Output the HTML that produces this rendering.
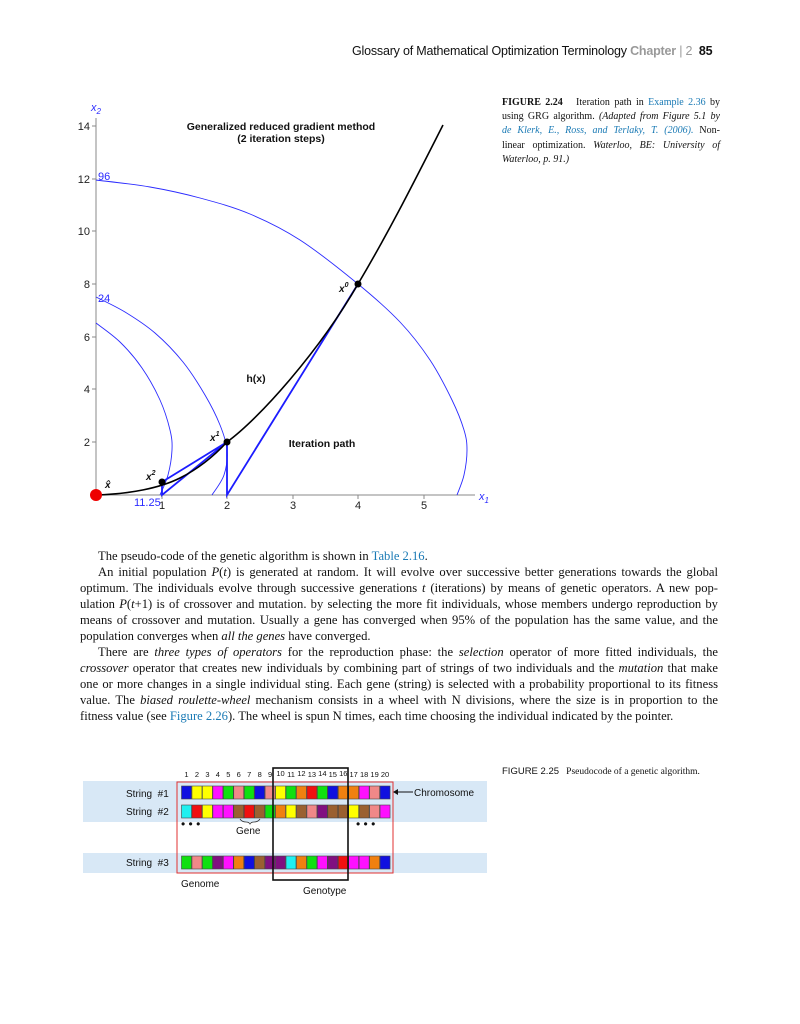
<!DOCTYPE html>
<html><head><meta charset="utf-8"><style>
body{margin:0;background:#fff;}
#p{position:relative;width:800px;height:1024px;overflow:hidden;font-family:"Liberation Serif",serif;color:#111;}
.l{position:absolute;left:80px;width:638px;font-size:12.6px;line-height:16px;white-space:nowrap;text-align:justify;text-align-last:justify;}
.l.e{text-align-last:left;}
.b{color:#1a7ab5}
.cap{position:absolute;left:502px;top:96px;width:218px;font-size:10px;line-height:14.2px;}
.cap div{text-align:justify;text-align-last:justify;white-space:nowrap}
</style></head><body><div id="p">
<div style="position:absolute;left:352px;top:44px;font-family:'Liberation Sans',sans-serif;font-size:12.5px;letter-spacing:-0.2px;">Glossary of Mathematical Optimization Terminology <span style="color:#999;font-weight:bold">Chapter</span> <span style="color:#999">|</span> <span style="color:#999">2</span> &nbsp;<b>85</b></div>

<div class="cap">
<div><b>FIGURE 2.24</b>&nbsp;&nbsp; Iteration path in <span class="b">Example 2.36</span> by</div>
<div>using GRG algorithm. <i>(Adapted from Figure 5.1 by</i></div>
<div><i class="b">de Klerk, E., Ross, and Terlaky, T. (2006).</i> Non-</div>
<div>linear optimization. <i>Waterloo, BE: University of</i></div>
<div style="text-align-last:left"><i>Waterloo, p. 91.)</i></div>
</div>

<svg id="ch" style="position:absolute;left:0;top:0" width="800" height="540" font-family="Liberation Sans, sans-serif">
<g stroke="#888" stroke-width="1">
<line x1="96" y1="118" x2="96" y2="495"/>
<line x1="96" y1="495" x2="475" y2="495"/>
<line x1="92" y1="126" x2="96" y2="126"/><line x1="92" y1="179" x2="96" y2="179"/><line x1="92" y1="231" x2="96" y2="231"/><line x1="92" y1="284" x2="96" y2="284"/><line x1="92" y1="337" x2="96" y2="337"/><line x1="92" y1="389" x2="96" y2="389"/><line x1="92" y1="442" x2="96" y2="442"/>
<line x1="162" y1="495" x2="162" y2="499"/><line x1="227" y1="495" x2="227" y2="499"/><line x1="293" y1="495" x2="293" y2="499"/><line x1="358" y1="495" x2="358" y2="499"/><line x1="424" y1="495" x2="424" y2="499"/>
</g>
<g font-size="11" fill="#222" text-anchor="end">
<text x="90" y="130">14</text><text x="90" y="183">12</text><text x="90" y="235">10</text><text x="90" y="288">8</text><text x="90" y="341">6</text><text x="90" y="393">4</text><text x="90" y="446">2</text>
</g>
<g font-size="11" fill="#222" text-anchor="middle">
<text x="162" y="509">1</text><text x="227" y="509">2</text><text x="293" y="509">3</text><text x="358" y="509">4</text><text x="424" y="509">5</text>
</g>
<text x="91" y="111" font-size="11" fill="#2a2aff" font-style="italic">x<tspan font-size="8" dy="3">2</tspan></text>
<text x="479" y="500" font-size="11" fill="#2a2aff" font-style="italic">x<tspan font-size="8" dy="3">1</tspan></text>
<g id="arcs" fill="none" stroke="#2b2bff" stroke-width="0.9"></g>
<g font-size="11" fill="#2b2bff"><text x="98" y="180">96</text><text x="98" y="302">24</text><text x="134" y="506">11.25</text></g>
<g fill="none" stroke="#1c1cff" stroke-width="1.8">
<polyline points="358,284 227,495 227,442 162,495 162,482 227,442"/>
</g>
<path d="M96,495 C130,494 160,488 180,478 S215,455 227,442 C260,418 320,350 358,284 C390,230 415,180 443,125" fill="none" stroke="#000" stroke-width="1.6"/>
<circle cx="96" cy="495" r="6" fill="#e00"/>
<circle cx="162" cy="482" r="3.5"/><circle cx="227" cy="442" r="3.5"/><circle cx="358" cy="284" r="3.5"/>
<g font-size="10" font-style="italic" font-weight="bold" fill="#111">
<text x="339" y="292">x<tspan font-size="7" dy="-5">0</tspan></text>
<text x="210" y="441">x<tspan font-size="7" dy="-5">1</tspan></text>
<text x="146" y="480">x<tspan font-size="7" dy="-5">2</tspan></text>
<text x="105" y="488">x̂</text>
</g>
<g font-size="10.5" font-weight="bold" fill="#111" text-anchor="middle">
<text x="281" y="130">Generalized reduced gradient method</text>
<text x="281" y="142">(2 iteration steps)</text>
<text x="256" y="382">h(x)</text>
<text x="322" y="447">Iteration path</text>
</g>
</svg>
<script>
function cr(p){var d='M'+p[0]+','+p[1];for(var i=0;i<p.length-2;i+=2){var x0=p[i-2]!==undefined?p[i-2]:p[i],y0=p[i-1]!==undefined?p[i-1]:p[i+1],x1=p[i],y1=p[i+1],x2=p[i+2],y2=p[i+3],x3=p[i+4]!==undefined?p[i+4]:x2,y3=p[i+5]!==undefined?p[i+5]:y2;d+=' C'+(x1+(x2-x0)/6)+','+(y1+(y2-y0)/6)+' '+(x2-(x3-x1)/6)+','+(y2-(y3-y1)/6)+' '+x2+','+y2;}return d;}
var A=[[96,180,150,187,200,198,250,214,300,240,358,284,400,322,430,360,452,400,464,430,467,450,464,475,457,495],
[96,297,125,312,155,333,183,362,205,395,220,425,227,450,224,475,212,495],
[96,323,120,342,142,368,160,400,170,430,172,450,168,475,160,495]];
document.getElementById('arcs').innerHTML=A.map(function(a){return '<path d="'+cr(a)+'"/>';}).join('');
</script>

<div class="l e" style="top:548px;left:98px">The pseudo-code of the genetic algorithm is shown in <span class="b">Table 2.16</span>.</div>
<div class="l" style="top:564px;left:98px;width:620px">An initial population <i>P</i>(<i>t</i>) is generated at random. It will evolve over successive better generations towards the global</div>
<div class="l" style="top:580px">optimum. The individuals evolve through successive generations <i>t</i> (iterations) by means of genetic operators. A new pop-</div>
<div class="l" style="top:596px">ulation <i>P</i>(<i>t</i>+1) is of crossover and mutation. by selecting the more fit individuals, whose members undergo reproduction by</div>
<div class="l" style="top:612px">means of crossover and mutation. Usually a gene has converged when 95% of the population has the same value, and the</div>
<div class="l e" style="top:628px">population converges when <i>all the genes</i> have converged.</div>
<div class="l" style="top:644px;left:98px;width:620px">There are <i>three types of operators</i> for the reproduction phase: the <i>selection</i> operator of more fitted individuals, the</div>
<div class="l" style="top:660px"><i>crossover</i> operator that creates new individuals by combining part of strings of two individuals and the <i>mutation</i> that make</div>
<div class="l" style="top:676px">one or more changes in a single individual sting. Each gene (string) is selected with a probability proportional to its fitness</div>
<div class="l" style="top:692px">value. The <i>biased roulette-wheel</i> mechanism consists in a wheel with N divisions, where the size is in proportion to the</div>
<div class="l e" style="top:708px">fitness value (see <span class="b">Figure 2.26</span>). The wheel is spun N times, each time choosing the individual indicated by the pointer.</div>

<div style="position:absolute;left:502px;top:766px;font-size:9.5px;"><span style="font-family:'Liberation Sans',sans-serif">FIGURE 2.25</span>&nbsp;&nbsp; Pseudocode of a genetic algorithm.</div>

<svg id="g" style="position:absolute;left:0;top:740px" width="800" height="160" font-family="Liberation Sans, sans-serif"></svg>
<script>
var s=document.getElementById('g'),h='';
h+='<rect x="83" y="41" width="404" height="41" fill="#d8e8f6"/><rect x="83" y="113" width="404" height="20" fill="#d8e8f6"/>';
var C={b:'#1010e0',y:'#ffff00',m:'#ff10ff',g:'#10e010',p:'#f08888',o:'#f08010',r:'#f01010',c:'#20f0f0',n:'#9a6030',u:'#801080'};
var R=[['byymgpgbpygorgboompb'.split(''),46],['crymmnrngoynpunnynpm'.split(''),65],['gpgumobnuucogmurmmob'.split(''),116]];
R.forEach(function(r){for(var i=0;i<20;i++){h+='<rect x="'+(181.5+i*10.45)+'" y="'+r[1]+'" width="10" height="13" fill="'+C[r[0][i]]+'" stroke="#444" stroke-width="0.6"/>';}});
for(var i=0;i<20;i++){h+='<text x="'+(186.5+i*10.45)+'" y="'+(i>=9&&i<16&&i%2?36:37)+'" font-size="7.5" text-anchor="middle" fill="#111">'+(i+1)+'</text>';}
h+='<rect x="177" y="42" width="216" height="91" fill="none" stroke="#e03030" stroke-width="1"/>';
h+='<rect x="273" y="28" width="75" height="112" fill="none" stroke="#111" stroke-width="1.6"/>';
h+='<g font-size="10" fill="#111"><text x="126" y="57">String &nbsp;#1</text><text x="126" y="75">String &nbsp;#2</text><text x="126" y="126">String &nbsp;#3</text><text x="414" y="56">Chromosome</text><text x="236" y="94">Gene</text><text x="181" y="147">Genome</text><text x="303" y="154">Genotype</text><text x="181" y="88" font-size="12">• • •</text><text x="356" y="88" font-size="12">• • •</text></g>';
h+='<line x1="395" y1="52" x2="413" y2="52" stroke="#111"/><path d="M393,52 l5,-3 v6z" fill="#111"/>';
h+='<path d="M240,79 q2,3 6,3 q3,0 4,2 q1,-2 4,-2 q4,0 6,-3" fill="none" stroke="#333" stroke-width="0.8"/>';
s.innerHTML=h;
</script>
</div></body></html>
